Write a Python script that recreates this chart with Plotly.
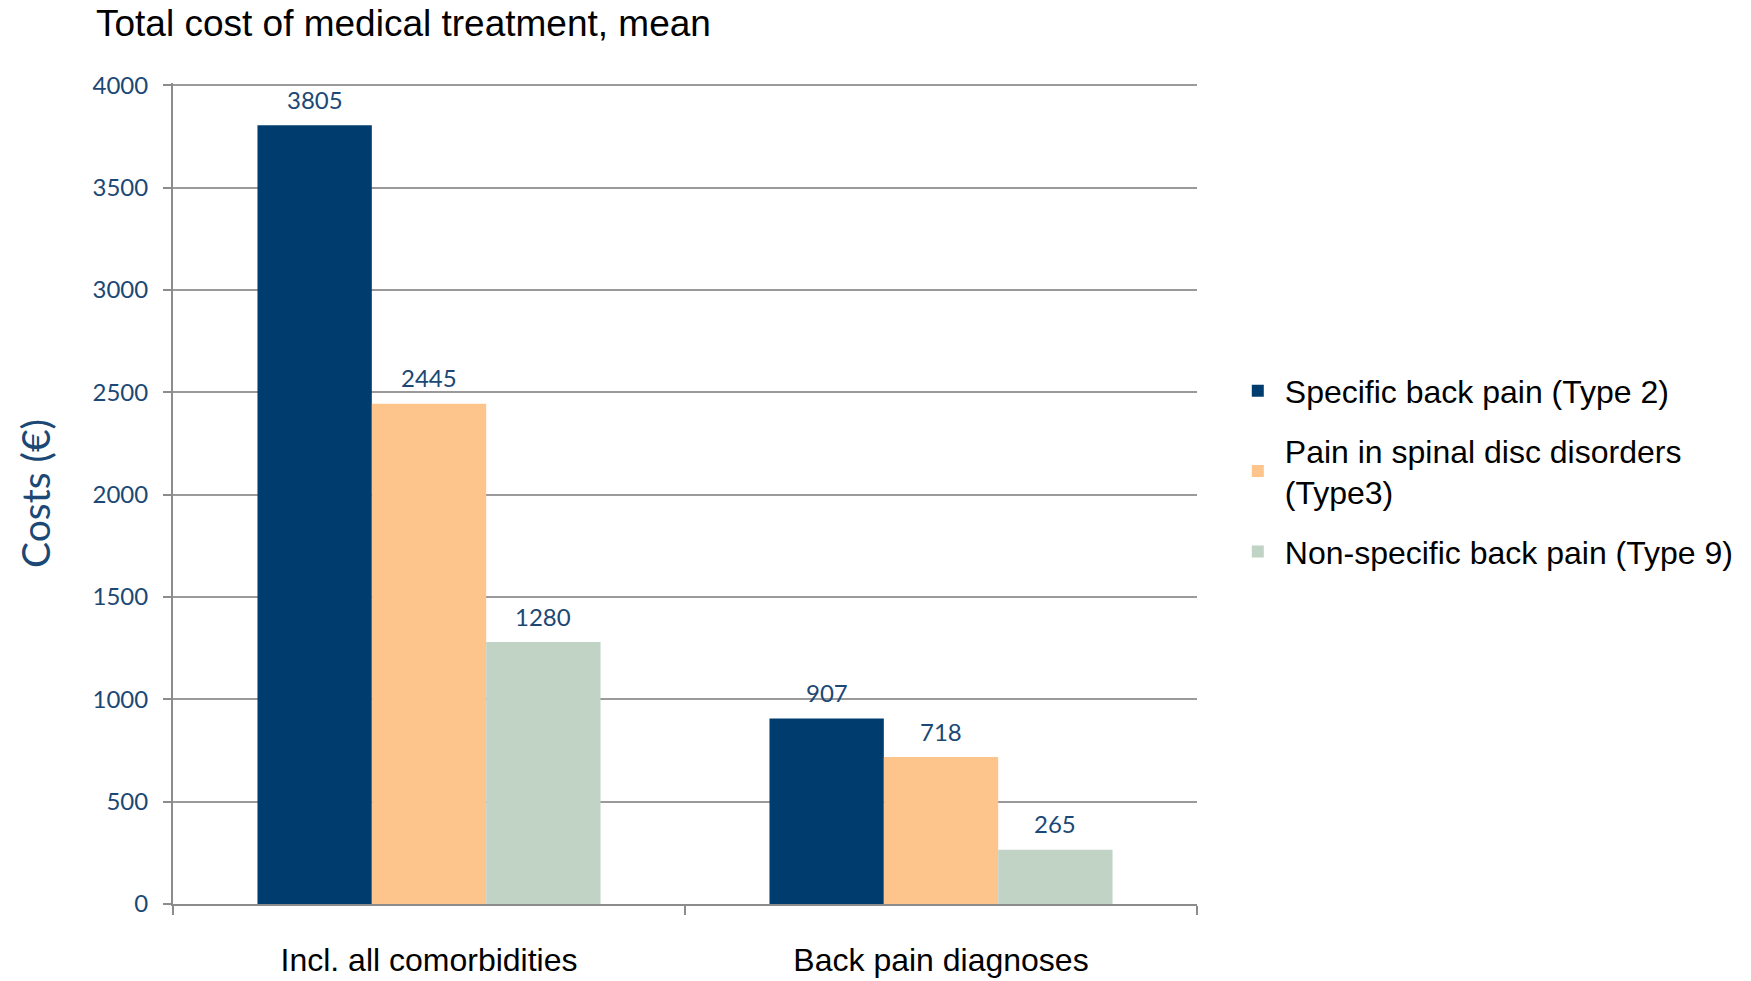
import plotly.graph_objects as go

# Mean total cost of medical treatment per back-pain type
categories = ["Incl. all comorbidities", "Back pain diagnoses"]
series_names = [
    "Specific back pain (Type 2)",
    "Pain in spinal disc disorders<br>(Type3)",
    "Non-specific back pain (Type 9)",
]
specific_type2 = [3805, 907]
spinal_disc_type3 = [2445, 718]
nonspecific_type9 = [1280, 265]
y_ticks = [0, 500, 1000, 1500, 2000, 2500, 3000, 3500, 4000]

colors = ["#003D6E", "#FDC48C", "#C0D3C5"]
label_color = "#1B4874"
arial = "Liberation Sans, Arial, sans-serif"
calibri = "Lato, Carlito, Calibri, sans-serif"

BARGAP = 0.33
series = [specific_type2, spinal_disc_type3, nonspecific_type9]
n_series = len(series)
bar_w = (1 - BARGAP) / n_series  # width of one bar in category units

fig = go.Figure()
for i, (name, vals) in enumerate(zip(series_names, series)):
    fig.add_trace(go.Bar(
        x=categories,
        y=vals,
        name=name,
        legendgroup=f"g{i}",
        marker=dict(color=colors[i], line=dict(width=0)),
        cliponaxis=False,
    ))
    # value labels centred above each bar
    for c, v in enumerate(vals):
        fig.add_annotation(
            x=c + (i - (n_series - 1) / 2) * bar_w,
            y=v,
            xref="x", yref="y",
            text=str(v),
            showarrow=False,
            yanchor="middle",
            yshift=26,
            font=dict(family=calibri, size=24, color=label_color),
        )

fig.update_layout(
    width=1751,
    height=981,
    barmode="group",
    bargap=BARGAP,
    bargroupgap=0,
    paper_bgcolor="white",
    plot_bgcolor="white",
    margin=dict(l=173, r=554, t=83, b=77, autoexpand=False),
    title=dict(
        text="Total cost of medical treatment, mean",
        font=dict(family=arial, size=37, color="black"),
        x=96 / 1751, xanchor="left",
        y=1 - 23 / 981, yanchor="middle",
        yref="container",
    ),
    legend=dict(
        x=1.033, xanchor="left",
        y=0.527, yanchor="middle",
        font=dict(family=arial, size=32, color="black"),
        itemwidth=44,
        tracegroupgap=15,
        traceorder="grouped",
        bgcolor="rgba(0,0,0,0)",
    ),
    showlegend=True,
)

fig.update_xaxes(
    automargin=False,
    showline=True, linecolor="#8C8C8C", linewidth=2,
    ticks="outside", tickson="boundaries", ticklen=9, tickcolor="#8C8C8C", tickwidth=1.5,
    tickfont=dict(family=arial, size=32, color="black"),
    ticklabelstandoff=27,
    showgrid=False,
)
fig.update_yaxes(
    automargin=False,
    range=[0, 4012],
    tickvals=y_ticks,
    showline=True, linecolor="#8C8C8C", linewidth=2,
    ticks="outside", ticklen=8, tickcolor="#8C8C8C", tickwidth=1.5,
    tickfont=dict(family=calibri, size=24, color=label_color),
    ticklabelstandoff=10,
    showgrid=True, gridcolor="#9A9A9A", gridwidth=1.5,
    zeroline=False,
    title=dict(text="Costs (€)", font=dict(family=calibri, size=39, color=label_color), standoff=30),
)

fig.write_html("out.html")
